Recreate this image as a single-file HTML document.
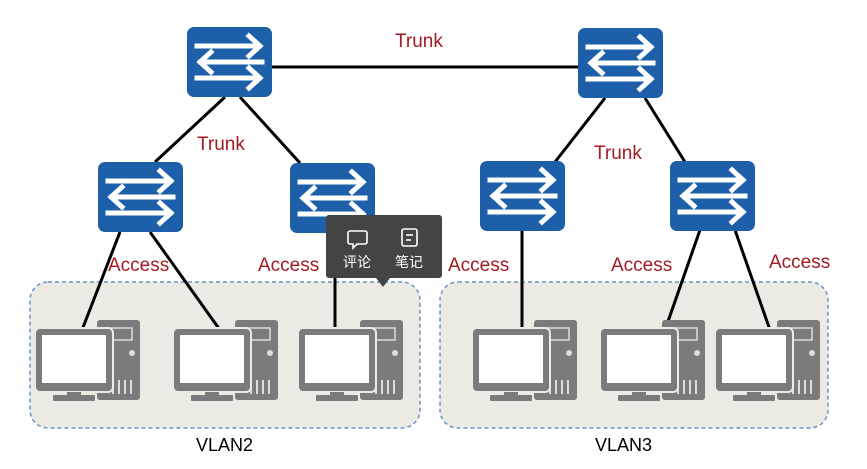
<!DOCTYPE html>
<html><head><meta charset="utf-8"><style>
body{margin:0;background:#fff;}
svg text{font-family:"Liberation Sans","Noto Sans CJK SC",sans-serif;}
</style></head><body>
<svg width="867" height="464" viewBox="0 0 867 464" xmlns="http://www.w3.org/2000/svg">
<defs>
<g id="sw">
<rect x="0" y="0" width="85" height="70" rx="7" fill="#1d5fa8"/>
<g stroke="#fff" stroke-width="5" fill="none" stroke-linecap="square">
<line x1="10" y1="19" x2="72" y2="19"/><polyline points="62,9 73,19 62,29"/>
<line x1="14" y1="35" x2="75" y2="35"/><polyline points="24,25 13,35 24,45"/>
<line x1="10" y1="51" x2="72" y2="51"/><polyline points="62,41 73,51 62,61"/>
</g>
</g>
<g id="pc">
<rect x="62" y="2" width="43" height="80" rx="3" fill="#7b7b7b"/>
<rect x="70" y="10" width="27" height="12" fill="none" stroke="#ddd" stroke-width="1.5"/>
<circle cx="97" cy="35" r="3" fill="#ddd"/>
<g stroke="#ddd" stroke-width="2"><line x1="78" y1="62" x2="78" y2="76"/><line x1="84" y1="62" x2="84" y2="76"/><line x1="90" y1="62" x2="90" y2="76"/><line x1="96" y1="62" x2="96" y2="76"/></g>
<rect x="0" y="10" width="78" height="64" rx="5" fill="#7b7b7b" stroke="#ecebe3" stroke-width="2"/>
<rect x="7" y="17" width="64" height="48" fill="#fff"/>
<rect x="32" y="74" width="14" height="4" fill="#7b7b7b"/>
<rect x="18" y="77" width="42" height="6" rx="1" fill="#7b7b7b"/>
</g>
</defs>
<rect x="30" y="282" width="390" height="146" rx="18" fill="#ecebe3" stroke="#6b93c9" stroke-width="1.5" stroke-dasharray="4,3"/>
<rect x="440" y="282" width="388" height="146" rx="18" fill="#ecebe3" stroke="#6b93c9" stroke-width="1.5" stroke-dasharray="4,3"/>
<g stroke="#000" stroke-width="3">
<line x1="272" y1="67" x2="578" y2="67"/>
<line x1="225" y1="97" x2="155" y2="162"/><line x1="240" y1="97" x2="300" y2="163"/>
<line x1="605" y1="98" x2="555" y2="162"/><line x1="645" y1="98" x2="685" y2="162"/>
<line x1="120" y1="232" x2="82" y2="330"/><line x1="150" y1="232" x2="220" y2="330"/>
<line x1="335" y1="233" x2="335" y2="330"/><line x1="522" y1="230" x2="522" y2="330"/>
<line x1="700" y1="230" x2="665" y2="330"/><line x1="735" y1="230" x2="770" y2="330"/>
</g>
<use href="#sw" x="187" y="27"/><use href="#sw" x="578" y="28"/>
<use href="#sw" x="98" y="162"/><use href="#sw" x="290" y="163"/>
<use href="#sw" x="480" y="161"/><use href="#sw" x="670" y="161"/>
<use href="#pc" x="35" y="318"/><use href="#pc" x="173" y="318"/><use href="#pc" x="298" y="318"/>
<use href="#pc" x="472" y="318"/><use href="#pc" x="600" y="318"/><use href="#pc" x="715" y="318"/>
<g fill="#a31a22" font-size="19">
<text x="395" y="47">Trunk</text><text x="197" y="150">Trunk</text><text x="594" y="159">Trunk</text>
<text x="108" y="271">Access</text><text x="258" y="271">Access</text><text x="448" y="271">Access</text>
<text x="611" y="271">Access</text><text x="769" y="268">Access</text>
</g>
<g fill="#000" font-size="18"><text x="196" y="451">VLAN2</text><text x="595" y="451">VLAN3</text></g>
<rect x="326" y="215" width="116" height="63" rx="3" fill="#444"/>
<polygon points="376,278 390,278 383,287" fill="#444"/>
<g fill="none" stroke="#fff" stroke-width="1.6">
<path d="M350 231 h15 a2 2 0 0 1 2 2 v9 a2 2 0 0 1 -2 2 h-8 l-4 4 v-4 h-3 a2 2 0 0 1 -2 -2 v-9 a2 2 0 0 1 2 -2z"/>
<rect x="402" y="229" width="15" height="17" rx="2"/><line x1="406" y1="235" x2="413" y2="235"/><line x1="406" y1="240" x2="411" y2="240"/>
</g>
<g fill="#fff" font-size="14"><text x="343" y="267">评论</text><text x="395" y="267">笔记</text></g>
</svg>
</body></html>
